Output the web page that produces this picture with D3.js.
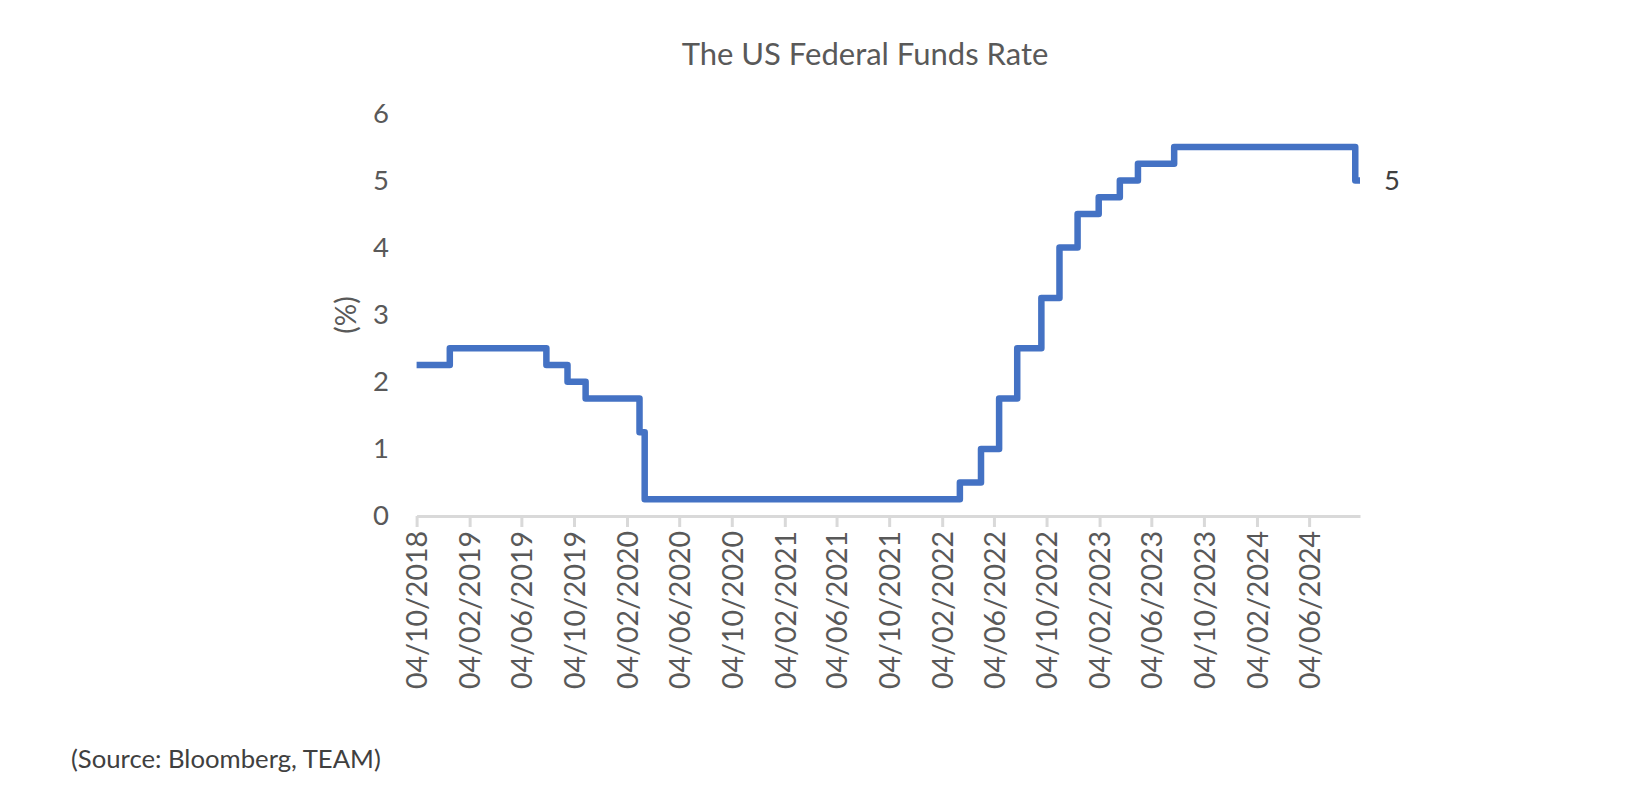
<!DOCTYPE html>
<html>
<head>
<meta charset="utf-8">
<script src="https://cdn.jsdelivr.net/npm/d3@7/dist/d3.min.js"></script>
<style>
  html, body { margin: 0; padding: 0; background: #ffffff; }
  svg { display: block; font-family: Lato, "Open Sans", sans-serif; }
</style>
</head>
<body>
<svg id="chart" width="1650" height="786"></svg>
<script>
// ---- data (upper bound of the Fed Funds target range, step changes) ----
const changeDates = [
  "2018-10-04", "2018-12-20", "2019-08-01", "2019-09-19", "2019-10-31",
  "2020-03-04", "2020-03-16", "2022-03-17", "2022-05-05", "2022-06-16",
  "2022-07-28", "2022-09-22", "2022-11-03", "2022-12-15", "2023-02-02",
  "2023-03-23", "2023-05-04", "2023-07-27", "2024-09-19", "2024-09-30"
];
const rateValues = [
  2.25, 2.50, 2.25, 2.00, 1.75,
  1.25, 0.25, 0.50, 1.00, 1.75,
  2.50, 3.25, 4.00, 4.50, 4.75,
  5.00, 5.25, 5.50, 5.00, 5.00
];
const xTickLabels = [
  "04/10/2018", "04/02/2019", "04/06/2019", "04/10/2019", "04/02/2020",
  "04/06/2020", "04/10/2020", "04/02/2021", "04/06/2021", "04/10/2021",
  "04/02/2022", "04/06/2022", "04/10/2022", "04/02/2023", "04/06/2023",
  "04/10/2023", "04/02/2024", "04/06/2024"
];
const yTickValues = [0, 1, 2, 3, 4, 5, 6];
const titleText = "The US Federal Funds Rate";
const yAxisTitle = "(%)";
const sourceText = "(Source: Bloomberg, TEAM)";
const endLabel = "5";

// ---- build ----
const parseISO = d3.utcParse("%Y-%m-%d");
const parseTick = d3.utcParse("%d/%m/%Y");
const series = changeDates.map((d, i) => ({ date: parseISO(d), value: rateValues[i] }));
const tickDates = xTickLabels.map(parseTick);

const svg = d3.select("#chart");
const textColor = "#595959";
const axisColor = "#d9d9d9";
const labelSize = "27.5px";

const x = d3.scaleUtc()
  .domain([series[0].date, series[series.length - 1].date])
  .range([416.6, 1360]);
const y = d3.scaleLinear().domain([0, 6]).range([516, 113.4]);

// title
svg.append("text")
  .attr("x", 865).attr("y", 65)
  .attr("text-anchor", "middle")
  .attr("fill", textColor)
  .style("font-size", "31px")
  .text(titleText);

// y axis (labels only)
const yAxis = svg.append("g")
  .attr("transform", "translate(389,0)")
  .call(d3.axisLeft(y).tickValues(yTickValues).tickSize(0).tickPadding(0).tickFormat(d3.format("d")));
yAxis.select(".domain").remove();
yAxis.selectAll("text")
  .attr("fill", textColor)
  .style("font-size", labelSize)
  .style("font-family", "Lato, 'Open Sans', sans-serif");

// y axis title
svg.append("text")
  .attr("transform", "translate(347,315) rotate(-90)")
  .attr("text-anchor", "middle")
  .attr("dy", "0.33em")
  .attr("fill", textColor)
  .style("font-size", "28px")
  .text(yAxisTitle);

// x axis
const xAxis = svg.append("g")
  .attr("transform", `translate(0,${y(0)})`)
  .call(d3.axisBottom(x)
    .tickValues(tickDates)
    .tickSize(11)
    .tickSizeOuter(0)
    .tickFormat((d, i) => xTickLabels[i]));
xAxis.select(".domain")
  .attr("stroke", axisColor)
  .attr("stroke-width", 3);
xAxis.selectAll(".tick line")
  .attr("stroke", axisColor)
  .attr("stroke-width", 3);
xAxis.selectAll(".tick text")
  .attr("transform", "rotate(-90)")
  .attr("x", -15)
  .attr("y", 0)
  .attr("dy", "0.36em")
  .attr("text-anchor", "end")
  .attr("fill", textColor)
  .style("font-size", "28.5px")
  .style("font-family", "Lato, 'Open Sans', sans-serif");

// line
const line = d3.line()
  .x(d => x(d.date))
  .y(d => y(d.value))
  .curve(d3.curveStepAfter);
svg.append("path")
  .datum(series)
  .attr("d", line)
  .attr("fill", "none")
  .attr("stroke", "#4472C4")
  .attr("stroke-width", 6.5)
  .attr("stroke-linejoin", "round")
  .attr("stroke-linecap", "butt");

// end data label
const last = series[series.length - 1];
svg.append("text")
  .attr("x", x(last.date) + 24)
  .attr("y", y(last.value))
  .attr("dy", "0.36em")
  .attr("fill", "#404040")
  .style("font-size", labelSize)
  .text(endLabel);

// source
svg.append("text")
  .attr("x", 71).attr("y", 768)
  .attr("fill", "#404040")
  .style("font-size", "25.7px")
  .text(sourceText);
</script>
</body>
</html>
